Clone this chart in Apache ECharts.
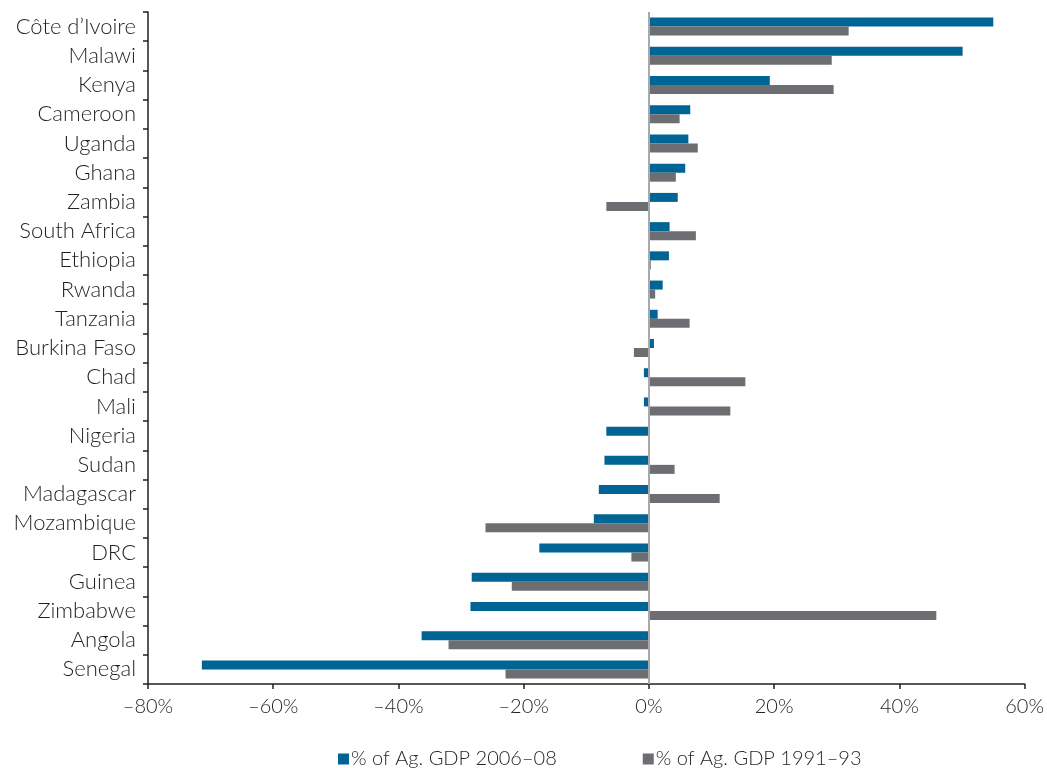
<!DOCTYPE html>
<html>
<head>
<meta charset="utf-8">
<script src="https://cdn.jsdelivr.net/npm/echarts@6/dist/echarts.min.js"></script>
<style>
html,body{margin:0;padding:0;background:#fff;}
#chart{width:1047px;height:768px;}
</style>
</head>
<body>
<div id="chart"></div>
<script>
const categories = ["Côte d\u2019Ivoire","Malawi","Kenya","Cameroon","Uganda","Ghana","Zambia","South Africa","Ethiopia","Rwanda","Tanzania","Burkina Faso","Chad","Mali","Nigeria","Sudan","Madagascar","Mozambique","DRC","Guinea","Zimbabwe","Angola","Senegal"];
const series2006 = [55.0,50.1,19.3,6.6,6.3,5.8,4.6,3.3,3.2,2.2,1.4,0.8,-0.8,-0.8,-6.8,-7.1,-8.0,-8.8,-17.5,-28.3,-28.5,-36.3,-71.4];
const series1991 = [31.9,29.2,29.5,4.9,7.8,4.3,-6.8,7.5,0.3,1.0,6.5,-2.4,15.4,13.0,0,4.1,11.3,-26.1,-2.8,-21.9,45.9,-32.0,-22.9];
const seriesNames = ["% of Ag. GDP 2006\u201308","% of Ag. GDP 1991\u201393"];
const xTicks = {min:-80,max:60,interval:20};

const FONT = 'Lato, "Open Sans", sans-serif';
const TXT = '#231f20';
const chart = echarts.init(document.getElementById('chart'), null, {renderer:'canvas'});
chart.setOption({
  animation:false,
  grid:{left:148,right:22,top:12,bottom:84,containLabel:false},
  legend:{
    top:744,left:333,
    itemWidth:11,itemHeight:11,itemGap:86,
    icon:'rect',
    textStyle:{fontFamily:FONT,fontSize:20,color:TXT,fontWeight:300,padding:[0,0,0,-3]},
    data:seriesNames
  },
  xAxis:{
    type:'value',min:xTicks.min,max:xTicks.max,interval:xTicks.interval,
    axisLine:{show:true,lineStyle:{color:'#231f20',width:1.5}},
    axisTick:{show:true,length:5,lineStyle:{color:'#231f20',width:1.5}},
    splitLine:{show:false},
    axisLabel:{fontFamily:FONT,fontSize:20,color:TXT,fontWeight:300,margin:13,
      formatter:v=>(v<0?'\u2013'+Math.abs(v):v)+'%'}
  },
  yAxis:{
    type:'category',inverse:true,data:categories,
    axisLine:{show:true,onZero:false,lineStyle:{color:'#231f20',width:1.5}},
    axisTick:{show:true,length:5,lineStyle:{color:'#231f20',width:1.5}},
    axisLabel:{fontFamily:FONT,fontSize:22,color:TXT,fontWeight:300,margin:12}
  },
  series:[
    {name:seriesNames[0],type:'bar',data:series2006,barWidth:9,barGap:'0%',
     itemStyle:{color:'#006595'},
     markLine:{silent:true,symbol:'none',label:{show:false},
       lineStyle:{color:'#a7a9ac',width:2,type:'solid'},data:[{xAxis:0}]},
     z:2},
    {name:seriesNames[1],type:'bar',data:series1991,barWidth:9,barGap:'0%',
     itemStyle:{color:'#6d6e71'},z:2}
  ]
});
</script>
</body>
</html>
